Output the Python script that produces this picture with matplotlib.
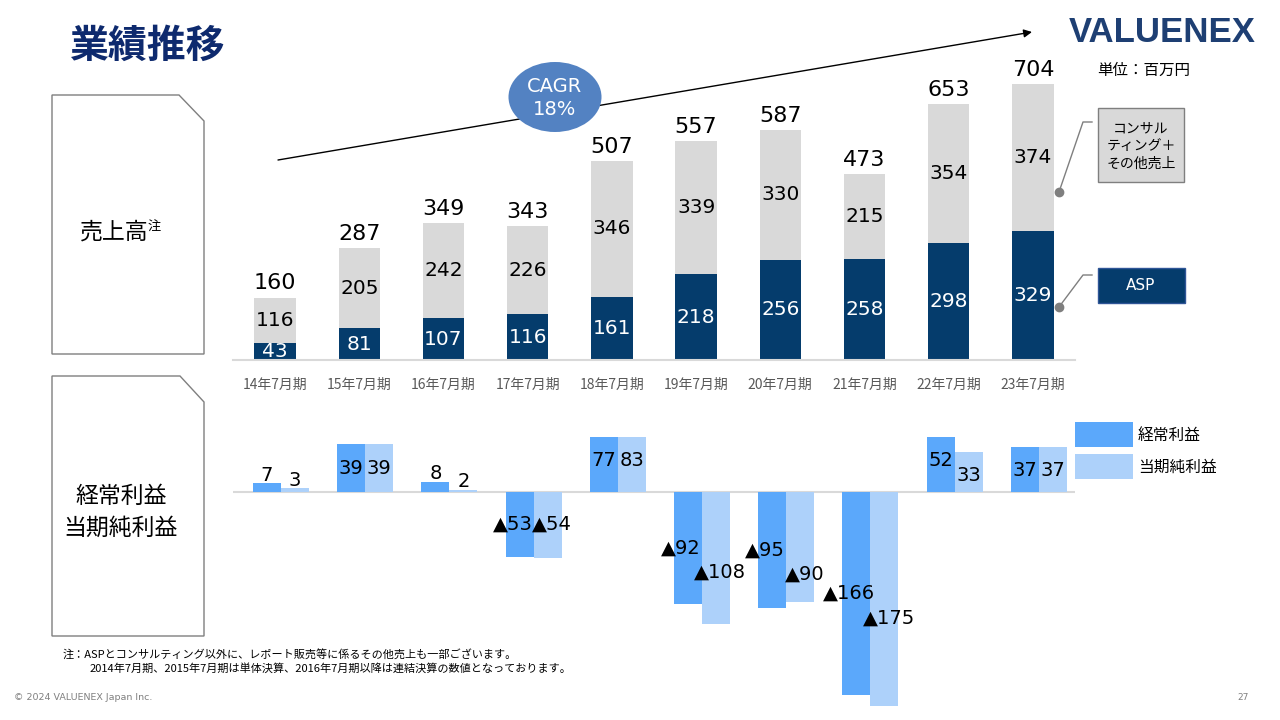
import matplotlib
matplotlib.use('Agg')
import matplotlib.pyplot as plt
from matplotlib.patches import Polygon, Ellipse, Rectangle
import numpy as np

plt.rcParams['font.family'] = ['DejaVu Sans', 'Noto Sans CJK JP']
JP = ['Noto Sans CJK JP', 'DejaVu Sans']

# データ（単位：百万円）
periods = ['14年7月期', '15年7月期', '16年7月期', '17年7月期', '18年7月期',
           '19年7月期', '20年7月期', '21年7月期', '22年7月期', '23年7月期']
asp = [43, 81, 107, 116, 161, 218, 256, 258, 298, 329]
consulting = [116, 205, 242, 226, 346, 339, 330, 215, 354, 374]
totals = [160, 287, 349, 343, 507, 557, 587, 473, 653, 704]
ordinary_profit = [7, 39, 8, -53, 77, -92, -95, -166, 52, 37]
net_profit = [3, 39, 2, -54, 83, -108, -90, -175, 33, 37]

NAVY = '#053C6C'
GREY = '#D9D9D9'
BLUE = '#5BA8FB'
LIGHT = '#ADD1FA'
W, H = 1280, 720


def rect_px(x0, y0, x1, y1):
    return [x0 / W, 1 - y1 / H, (x1 - x0) / W, (y1 - y0) / H]


def fmt(v):
    return ('▲' + str(abs(v))) if v < 0 else str(v)


fig = plt.figure(figsize=(12.8, 7.2), dpi=100)

# 売上高
ax1 = fig.add_axes(rect_px(233, 54, 1075, 360))
x = np.arange(len(periods))
ax1.bar(x, asp, 0.49, color=NAVY, zorder=2)
ax1.bar(x, consulting, 0.49, bottom=asp, color=GREY, zorder=2)
for i in range(len(x)):
    ax1.text(i, asp[i] / 2, str(asp[i]), ha='center', va='center',
             color='white', fontsize=14.5, zorder=3)
    ax1.text(i, asp[i] + consulting[i] / 2, str(consulting[i]), ha='center',
             va='center', color='black', fontsize=14.5, zorder=3)
    ax1.annotate(str(totals[i]), (i, asp[i] + consulting[i]), xytext=(0, 3),
                 textcoords='offset points', ha='center', va='bottom',
                 fontsize=16)
ax1.set_xlim(-0.5, 9.5)
ax1.set_ylim(0, 780)
for s in ['top', 'left', 'right']:
    ax1.spines[s].set_visible(False)
ax1.spines['bottom'].set_color(GREY)
ax1.spines['bottom'].set_linewidth(1.5)
ax1.set_yticks([])
ax1.set_xticks(x)
ax1.set_xticklabels(periods, fontsize=10, color='#595959', family=JP)
ax1.tick_params(axis='x', length=0, pad=13)
ax1.patch.set_visible(False)

# 経常利益・当期純利益
ax2 = fig.add_axes(rect_px(233, 437.1, 1075, 717.7))
w = 1 / 3
ax2.bar(x - w / 2, ordinary_profit, w, color=BLUE, zorder=2)
ax2.bar(x + w / 2, net_profit, w, color=LIGHT, zorder=2)
ax2.axhline(0, color=GREY, lw=1.5, zorder=1)
ax2.set_xlim(-0.57, 9.43)
ax2.set_ylim(-185, 45)
ax2.axis('off')
for i in range(len(x)):
    d, n = ordinary_profit[i], net_profit[i]
    if d >= 0:
        for xc, v in ((i - w / 2, d), (i + w / 2, n)):
            if v >= 15:
                ax2.annotate(str(v), (xc, min(v, 45)), xytext=(0, -17),
                             textcoords='offset points', ha='center',
                             va='center', fontsize=14)
            else:
                ax2.annotate(str(v), (xc, v), xytext=(0, 6),
                             textcoords='offset points', ha='center',
                             va='center', fontsize=14)
    else:
        yd = d / 2
        yn = yd if n > -60 else yd - 20
        ax2.annotate(fmt(d), (i - w / 2, yd), xytext=(-5, 0),
                     textcoords='offset points', ha='center', va='center',
                     fontsize=14)
        ax2.annotate(fmt(n), (i + w / 2, yn), xytext=(3, 0),
                     textcoords='offset points', ha='center', va='center',
                     fontsize=14)

# 装飾（ピクセル座標）
ov = fig.add_axes([0, 0, 1, 1])
ov.set_xlim(0, W)
ov.set_ylim(H, 0)
ov.axis('off')

ov.text(70, 46, '業績推移', fontsize=28, fontweight='bold', color='#0E2A6E',
        ha='left', va='center', family=JP)
ov.text(1162, 32, 'VALUENEX', fontsize=25, fontweight='bold',
        color='#1E3F73', ha='center', va='center', family='Liberation Sans')
ov.text(1097, 70, '単位：百万円', fontsize=11.2, ha='left', va='center', family=JP)

# CAGR
ov.annotate('', xy=(1032, 32), xytext=(278, 160),
            arrowprops=dict(arrowstyle='-|>', color='black', lw=1,
                            mutation_scale=12, shrinkA=0, shrinkB=0))
ov.add_patch(Ellipse((555, 97), 93, 70, fc='#5382C2', ec='none', zorder=3))
ov.text(555, 98, 'CAGR\n18%', color='white', fontsize=14, ha='center',
        va='center', linespacing=1.25, zorder=4)

# 左側ラベル枠
ov.add_patch(Polygon([(52, 95), (179, 95), (204, 121), (204, 354), (52, 354)],
                     closed=True, fc='white', ec='#7F7F7F', lw=1))
ov.add_patch(Polygon([(52, 376), (180, 376), (204, 402), (204, 636), (52, 636)],
                     closed=True, fc='white', ec='#7F7F7F', lw=1))
ov.text(114, 232, '売上高', fontsize=16.5, ha='center', va='center', family=JP)
ov.text(148, 227, '注', fontsize=9.5, ha='left', va='center', family=JP)
ov.text(121, 496, '経常利益', fontsize=16.5, ha='center', va='center', family=JP)
ov.text(121, 528, '当期純利益', fontsize=16.5, ha='center', va='center', family=JP)

# 凡例（売上）
ov.add_patch(Rectangle((1098, 108), 86, 74, fc=GREY, ec='#7F7F7F', lw=1))
ov.text(1141, 146, 'コンサル\nティング＋\nその他売上', fontsize=10,
        ha='center', va='center', linespacing=1.35, family=JP)
ov.add_patch(Rectangle((1098, 268), 87, 35, fc=NAVY, ec='#2F5597', lw=1))
ov.text(1141, 285, 'ASP', fontsize=11, color='white', ha='center', va='center')
ov.plot([1092, 1083, 1059], [122, 122, 192], color='#7F7F7F', lw=1)
ov.plot([1059], [192], 'o', ms=6, color='#7F7F7F')
ov.plot([1092, 1083, 1059], [275, 275, 307], color='#7F7F7F', lw=1)
ov.plot([1059], [307], 'o', ms=6, color='#7F7F7F')

# 凡例（利益）
ov.add_patch(Rectangle((1075, 422), 58, 25, fc=BLUE, ec='none'))
ov.add_patch(Rectangle((1075, 454), 58, 25, fc=LIGHT, ec='none'))
ov.text(1138, 435, '経常利益', fontsize=11.3, ha='left', va='center', family=JP)
ov.text(1138, 467, '当期純利益', fontsize=11.3, ha='left', va='center', family=JP)

# 注記
ov.text(63, 655, '注：ASPとコンサルティング以外に、レポート販売等に係るその他売上も一部ございます。',
        fontsize=8, ha='left', va='center', family=JP)
ov.text(90, 668, '2014年7月期、2015年7月期は単体決算、2016年7月期以降は連結決算の数値となっております。',
        fontsize=8, ha='left', va='center', family=JP)
ov.text(14, 697, '© 2024 VALUENEX Japan Inc.', fontsize=6.8, color='#808080',
        ha='left', va='center')
ov.text(1243, 697, '27', fontsize=6.5, color='#808080', ha='center', va='center')

fig.savefig('out.png', dpi=100)
